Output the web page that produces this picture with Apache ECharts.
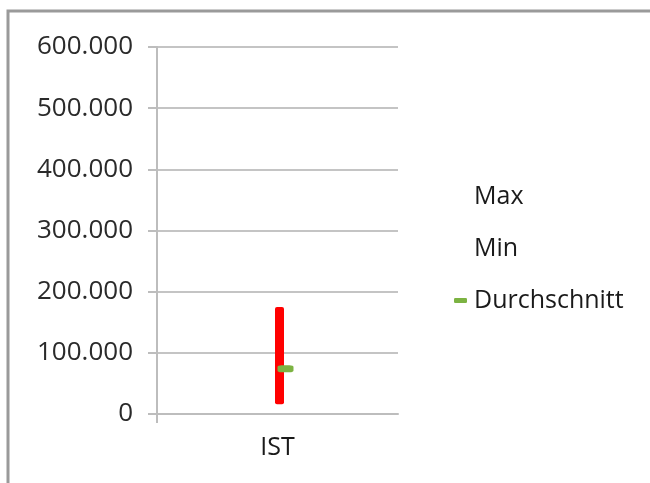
<!DOCTYPE html>
<html>
<head>
<meta charset="utf-8">
<script src="https://cdn.jsdelivr.net/npm/echarts@6/dist/echarts.min.js"></script>
<style>
html,body{margin:0;padding:0;background:#fff;}
#c{width:650px;height:483px;}
</style>
</head>
<body>
<div id="c"></div>
<script>
const categories = ['IST'];
const maxValues = [175000];
const minValues = [16000];
const avgValues = [74000];
const yTicks = [0, 100000, 200000, 300000, 400000, 500000, 600000];

function deFormat(v){
  return String(v).replace(/\B(?=(\d{3})+(?!\d))/g, '.');
}

const chart = echarts.init(document.getElementById('c'));
const FONT = 'Open Sans';
chart.setOption({
  animation: false,
  backgroundColor: '#fff',
  grid: {left: 157, right: 252, top: 47, bottom: 69, containLabel: false},
  legend: {
    orient: 'vertical',
    left: 449, top: 179,
    itemGap: 27,
    itemWidth: 13, itemHeight: 5,
    textStyle: {fontFamily: FONT, fontSize: 25, color: '#1a1a1a', padding: [0,0,0,2]},
    data: [
      {name: 'Max', icon: 'rect', itemStyle: {color: 'rgba(0,0,0,0)'}},
      {name: 'Min', icon: 'rect', itemStyle: {color: 'rgba(0,0,0,0)'}},
      {name: 'Durchschnitt', icon: 'roundRect', itemStyle: {color: '#7cb342'}}
    ]
  },
  xAxis: {
    type: 'category',
    data: categories,
    boundaryGap: true,
    axisLine: {lineStyle: {color: '#bdbdbd', width: 2}},
    axisTick: {show: false},
    axisLabel: {fontFamily: FONT, fontSize: 25, color: '#1a1a1a', margin: 21}
  },
  yAxis: {
    type: 'value',
    min: 0, max: 600000, interval: 100000,
    axisLine: {show: true, lineStyle: {color: '#bdbdbd', width: 2}},
    axisTick: {show: true, length: 9, lineStyle: {color: '#bdbdbd', width: 2}},
    splitLine: {lineStyle: {color: '#c4c4c4', width: 2}},
    axisLabel: {fontFamily: FONT, fontSize: 26, color: '#2a2a2a', margin: 24,
      formatter: function(v){ return yTicks.indexOf(v) >= 0 ? deFormat(v) : ''; }}
  },
  series: [
    {
      name: 'Max', type: 'line', data: maxValues, showSymbol: false,
      lineStyle: {opacity: 0}, itemStyle: {color: 'rgba(0,0,0,0)'}
    },
    {
      name: 'Min', type: 'line', data: minValues, showSymbol: false,
      lineStyle: {opacity: 0}, itemStyle: {color: 'rgba(0,0,0,0)'}
    },
    {
      name: 'HighLow', type: 'custom',
      data: categories.map((c, i) => [i, minValues[i], maxValues[i]]),
      renderItem: function(params, api){
        const lo = api.coord([api.value(0), api.value(1)]);
        const hi = api.coord([api.value(0), api.value(2)]);
        const w = 9;
        return {
          type: 'rect',
          shape: {x: lo[0] - w/2 + 2, y: hi[1], width: w, height: lo[1] - hi[1], r: 2},
          style: {fill: '#ff0000'}
        };
      },
      z: 3
    },
    {
      name: 'Durchschnitt', type: 'line', data: avgValues,
      symbol: 'roundRect', symbolSize: [16, 7], symbolOffset: [8, 0],
      showSymbol: true,
      lineStyle: {opacity: 0},
      itemStyle: {color: '#7cb342'},
      z: 4
    }
  ]
});

// left boundary tick of the category axis + outer frame
const origin = chart.convertToPixel({gridIndex: 0}, [0, 0]);
const gridRect = chart.getModel().getComponent('grid').coordinateSystem.getRect();
chart.setOption({
  graphic: [
    {
      type: 'line', silent: true,
      shape: {x1: gridRect.x, y1: origin[1], x2: gridRect.x, y2: origin[1] + 9},
      style: {stroke: '#bdbdbd', lineWidth: 2}
    },
    {
      type: 'rect', silent: true, z: 100,
      shape: {x: 8, y: 11, width: 700, height: 600},
      style: {fill: 'none', stroke: '#9a9a9a', lineWidth: 3}
    }
  ]
});
</script>
</body>
</html>
